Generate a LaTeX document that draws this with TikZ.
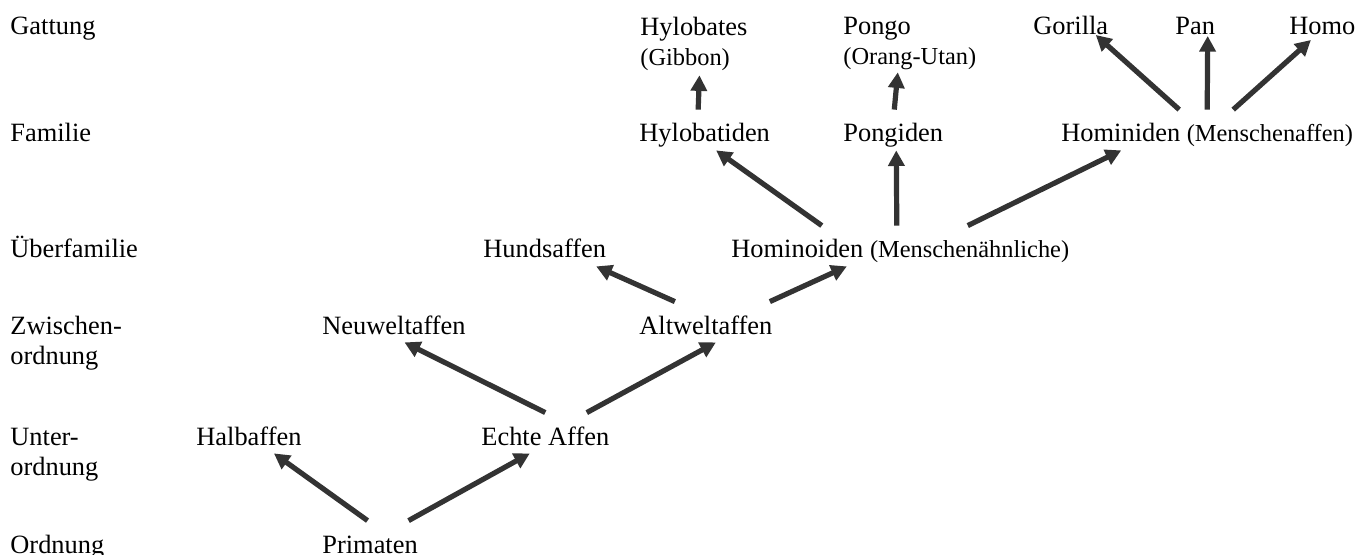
\documentclass[tikz,border=0pt]{standalone}
\usepackage{fontspec}
\setmainfont{Liberation Serif}
\usetikzlibrary{arrows.meta}
\definecolor{arrowgrey}{HTML}{333333}
\newcommand{\paren}[1]{{\fontsize{12.2}{15}\selectfont #1}}

\begin{document}
\begin{tikzpicture}[x=0.5pt, y=-0.5pt,
    font=\fontsize{13.2}{15}\selectfont,
    rank/.style={inner sep=0pt, anchor=base west, align=left},
    taxon/.style={inner sep=0pt, anchor=base west, text height=16pt, text depth=4pt},
    genus/.style={inner sep=0pt, anchor=north west, align=left},
    link/.style={draw=arrowgrey, line width=2.6pt, -{Triangle[length=7.8pt, width=8pt]}}]
    \useasboundingbox (0,0) rectangle (1368,555);

    % Rank labels
    \node[rank] (gattung) at (10,35) {Gattung};
    \node[rank] (familie) at (10,142) {Familie};
    \node[rank] (ueberfam) at (10,258) {Überfamilie};
    \node[rank, anchor=north west] (zwischen) at (10,316) {Zwischen-\\ordnung};
    \node[rank, anchor=north west] (unter) at (10,428) {Unter-\\ordnung};
    \node[rank] (ordnung) at (10,553) {Ordnung};

    % Taxa
    \node[taxon] (prim) at (322,553) {Primaten};
    \node[taxon] (halb) at (196,445) {Halbaffen};
    \node[taxon] (echte) at (481,445) {Echte Affen};
    \node[taxon] (neuw) at (322,334) {Neuweltaffen};
    \node[taxon] (altw) at (639,334) {Altweltaffen};
    \node[taxon] (hunds) at (483,258) {Hundsaffen};
    \node[taxon] (hominoid) at (731,258) {Hominoiden \paren{(Menschenähnliche)}};
    \node[taxon] (hylobat) at (639,142) {Hylobatiden};
    \node[taxon] (pongid) at (843,142) {Pongiden};
    \node[taxon] (hominid) at (1061,142) {Hominiden \paren{(Menschenaffen)}};

    % Genera
    \node[genus] (hylobates) at (640,17) {Hylobates\\\paren{(Gibbon)}};
    \node[genus] (pongo) at (843,17) {Pongo\\\paren{(Orang-Utan)}};
    \node[taxon] (gorilla) at (1033,35) {Gorilla};
    \node[taxon] (pan) at (1175,35) {Pan};
    \node[taxon] (homo) at (1289,35) {Homo};

    % Arrows
    \draw[link] ([shift={(-2.5,0)}]prim.north) -- ([shift={(25,0)}]halb.south);
    \draw[link] ([shift={(38.5,0)}]prim.north) -- ([shift={(-15.5,0)}]echte.south);
    \draw[link] ([shift={(0,0)}]echte.north) -- ([shift={(10.5,0)}]neuw.south);
    \draw[link] ([shift={(41.5,0)}]echte.north) -- ([shift={(10,0)}]altw.south);
    \draw[link] ([shift={(-31,0)}]altw.north) -- ([shift={(51.5,0)}]hunds.south);
    \draw[link] ([shift={(64,0)}]altw.north) -- ([shift={(-53.5,0)}]hominoid.south);
    \draw[link] ([shift={(-78.5,0)}]hominoid.north) -- ([shift={(11.5,0)}]hylobat.south);
    \draw[link] ([shift={(-3.5,0)}]hominoid.north) -- ([shift={(3,0)}]pongid.south);
    \draw[link] ([shift={(67.5,0)}]hominoid.north) -- ([shift={(-86,0)}]hominid.south);
    \draw[link] ([shift={(-6.5,0)}]hylobat.north) -- ([shift={(5.5,4)}]hylobates.south);
    \draw[link] ([shift={(1,0)}]pongid.north) -- ([shift={(-12,2)}]pongo.south);
    \draw[link] ([shift={(-28,0)}]hominid.north) -- ([shift={(25,0)}]gorilla.base);
    \draw[link] ([shift={(0,0)}]hominid.north) -- ([shift={(12.5,1)}]pan.base);
    \draw[link] ([shift={(26,0)}]hominid.north) -- ([shift={(-11.5,5)}]homo.base);
\end{tikzpicture}
\end{document}
